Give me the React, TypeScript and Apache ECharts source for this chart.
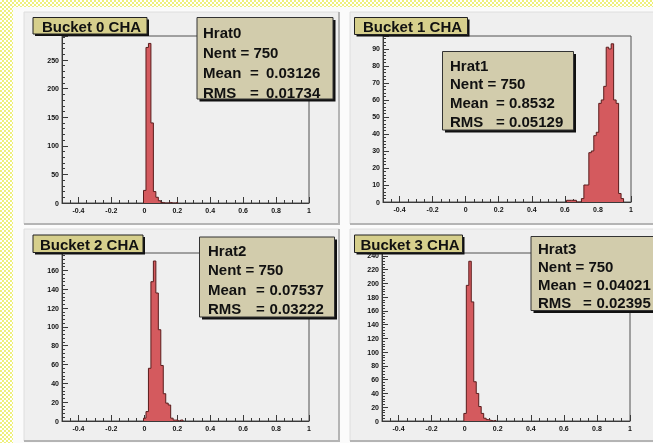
import React, { useEffect, useRef } from "react";
import * as echarts from "echarts";

// Histogram binning: 100 bins from -0.5 to 1.0
const BIN_WIDTH = 0.015;
const X_MIN = -0.5;
const X_MAX = 1.0;

const X_LABEL_TICKS = [-0.4, -0.2, 0, 0.2, 0.4, 0.6, 0.8, 1];
const X_MINOR_TICKS = [
  -0.5, -0.45, -0.4, -0.35, -0.3, -0.25, -0.2, -0.15, -0.1, -0.05, 0, 0.05, 0.1, 0.15, 0.2, 0.25,
  0.3, 0.35, 0.4, 0.45, 0.5, 0.55, 0.6, 0.65, 0.7, 0.75, 0.8, 0.85, 0.9, 0.95, 1,
];

const titles = ["Bucket 0 CHA", "Bucket 1 CHA", "Bucket 2 CHA", "Bucket 3 CHA"];
const histNames = ["Hrat0", "Hrat1", "Hrat2", "Hrat3"];
const entries = [750, 750, 750, 750];
const means = ["0.03126", "0.8532", "0.07537", "0.04021"];
const rmsValues = ["0.01734", "0.05129", "0.03222", "0.02395"];

// Counts per bin, starting at the given lower bin edge
const hrat0FirstEdge = -0.005;
const hrat0Counts = [22, 272, 279, 140, 20, 10, 4, 1, 0, 0, 1, 0, 0, 1];
const hrat1FirstEdge = 0.61;
const hrat1Counts = [1, 1, 1, 1, 0, 0, 2, 10, 10, 29, 30, 39, 41, 58, 60, 68, 91, 90, 93, 60, 58, 5, 2];
const hrat2FirstEdge = -0.005;
const hrat2Counts = [3, 10, 56, 148, 170, 136, 97, 59, 29, 19, 17, 3, 1, 1, 0, 1];
const hrat3FirstEdge = -0.005;
const hrat3Counts = [11, 197, 232, 173, 57, 40, 21, 11, 4, 2, 1, 0, 1];

const yMaxima = [292, 97.6, 178.5, 244];
const yIntervals = [50, 10, 20, 20];

const FONT = '"Liberation Sans", Arial, Helvetica, sans-serif';

// layout of the four pads
const pads = [
  { x: 24, y: 12, w: 315, h: 212 },
  { x: 350, y: 12, w: 310, h: 212 },
  { x: 24, y: 229, w: 315, h: 212 },
  { x: 350, y: 229, w: 310, h: 212 },
];
const frames = [
  { left: 62, top: 36, width: 247, height: 167 },
  { left: 383, top: 36, width: 248, height: 166 },
  { left: 62, top: 253, width: 247, height: 168 },
  { left: 382, top: 253, width: 248, height: 168 },
];
const titleBoxes = [
  { x: 33, y: 17.5, w: 114, h: 16.5 },
  { x: 354.5, y: 17.5, w: 113, h: 17 },
  { x: 33, y: 235, w: 110, h: 17.5 },
  { x: 354.5, y: 235, w: 108, h: 17.5 },
];
// box geometry plus text anchors: label x, first line y, line step, "=" x, value x
const statBoxes = [
  { x: 197, y: 17.5, w: 136, h: 81.5, tx: 203, ty: 32, dy: 20, eqX: 250, valX: 266 },
  { x: 442.5, y: 51.5, w: 131, h: 78.5, tx: 450, ty: 65, dy: 18.8, eqX: 496, valX: 509 },
  { x: 199.5, y: 237, w: 135, h: 80, tx: 208, ty: 250, dy: 19.5, eqX: 256, valX: 269.5 },
  { x: 531, y: 236.5, w: 135, h: 74, tx: 538, ty: 248.5, dy: 18, eqX: 583, valX: 596.5 },
];

function outline(firstEdge: number, counts: number[]) {
  const pts: number[][] = [[firstEdge, 0]];
  counts.forEach((c, i) => pts.push([+(firstEdge + i * BIN_WIDTH).toFixed(4), c]));
  pts.push([+(firstEdge + counts.length * BIN_WIDTH).toFixed(4), 0]);
  return pts;
}

const histograms = [
  outline(hrat0FirstEdge, hrat0Counts),
  outline(hrat1FirstEdge, hrat1Counts),
  outline(hrat2FirstEdge, hrat2Counts),
  outline(hrat3FirstEdge, hrat3Counts),
];

function text(str: string, x: number, y: number, align = "left") {
  return {
    type: "text",
    z: 102,
    style: {
      text: str,
      x,
      y,
      textAlign: align,
      textVerticalAlign: "middle",
      font: `bold 15px ${FONT}`,
      fill: "#111",
    },
  };
}

function buildOption() {
  const grid: any[] = [];
  const xAxis: any[] = [];
  const yAxis: any[] = [];
  const series: any[] = [];
  const graphic: any[] = [];
  const axisColor = "#3a3a3a";
  const labelStyle = { fontSize: 7, fontWeight: "bold", color: "#111", fontFamily: FONT };

  graphic.push({
    type: "rect",
    z: -30,
    shape: { x: 13, y: 7, width: 660, height: 450 },
    style: { fill: "#fbfbfb" },
  });

  for (let i = 0; i < 4; i++) {
    const f = frames[i];
    grid.push({
      left: f.left,
      top: f.top,
      width: f.width,
      height: f.height,
      show: true,
      backgroundColor: "transparent",
      borderColor: "#505050",
      borderWidth: 1,
    });
    xAxis.push({
      type: "value",
      gridIndex: i,
      position: "bottom",
      min: X_MIN,
      max: X_MAX,
      axisLine: { show: true, onZero: false, lineStyle: { color: axisColor, width: 1 } },
      axisTick: {
        show: true,
        inside: true,
        length: 6,
        customValues: X_LABEL_TICKS,
        lineStyle: { color: axisColor },
      },
      axisLabel: { ...labelStyle, margin: 4, customValues: X_LABEL_TICKS },
      splitLine: { show: false },
    });
    xAxis.push({
      type: "value",
      gridIndex: i,
      position: "bottom",
      min: X_MIN,
      max: X_MAX,
      axisLine: { show: false, onZero: false },
      axisTick: {
        show: true,
        inside: true,
        length: 3,
        customValues: X_MINOR_TICKS,
        lineStyle: { color: axisColor },
      },
      axisLabel: { show: false },
      splitLine: { show: false },
    });
    yAxis.push({
      type: "value",
      gridIndex: i,
      position: "left",
      min: 0,
      max: yMaxima[i],
      interval: yIntervals[i],
      axisLine: { show: true, onZero: false, lineStyle: { color: axisColor, width: 1 } },
      axisTick: { show: true, inside: true, length: 6, lineStyle: { color: axisColor } },
      minorTick: { show: true, splitNumber: 5, length: 3, lineStyle: { color: axisColor } },
      axisLabel: { ...labelStyle, margin: 3, showMaxLabel: false },
      splitLine: { show: false },
      minorSplitLine: { show: false },
    });
    series.push({
      type: "line",
      xAxisIndex: i * 2,
      yAxisIndex: i,
      step: "end",
      symbol: "none",
      data: histograms[i],
      lineStyle: { color: "#5a1c1c", width: 1 },
      areaStyle: { color: "#d45a5e", opacity: 1 },
      z: 3,
    });

    // pad background with bevel edges
    const p = pads[i];
    graphic.push({
      type: "rect",
      z: -20,
      shape: { x: p.x, y: p.y, width: p.w, height: p.h },
      style: { fill: "#efefef", stroke: "#dedede", lineWidth: 1 },
    });
    graphic.push({
      type: "polyline",
      z: -19,
      shape: { points: [[p.x, p.y + p.h], [p.x + p.w, p.y + p.h], [p.x + p.w, p.y]] },
      style: { stroke: "#b4b4b4", lineWidth: 2, fill: null },
    });

    // title box
    const t = titleBoxes[i];
    graphic.push({
      type: "rect",
      z: 100,
      shape: { x: t.x + 2, y: t.y + 2, width: t.w, height: t.h },
      style: { fill: "#111" },
    });
    graphic.push({
      type: "rect",
      z: 101,
      shape: { x: t.x, y: t.y, width: t.w, height: t.h },
      style: { fill: "#d6cf8c", stroke: "#222", lineWidth: 1 },
    });
    graphic.push(text(titles[i], t.x + t.w / 2 + 1.5, t.y + t.h / 2 + 0.5, "center"));

    // statistics box
    const s = statBoxes[i];
    graphic.push({
      type: "rect",
      z: 100,
      shape: { x: s.x + 2.5, y: s.y + 2.5, width: s.w, height: s.h },
      style: { fill: "#111" },
    });
    graphic.push({
      type: "rect",
      z: 101,
      shape: { x: s.x, y: s.y, width: s.w, height: s.h },
      style: { fill: "#d2ccac", stroke: "#333", lineWidth: 1 },
    });
    graphic.push(text(histNames[i], s.tx, s.ty));
    graphic.push(text(`Nent = ${entries[i]}`, s.tx, s.ty + s.dy));
    graphic.push(text("Mean", s.tx, s.ty + 2 * s.dy));
    graphic.push(text("=", s.eqX, s.ty + 2 * s.dy));
    graphic.push(text(means[i], s.valX, s.ty + 2 * s.dy));
    graphic.push(text("RMS", s.tx, s.ty + 3 * s.dy));
    graphic.push(text("=", s.eqX, s.ty + 3 * s.dy));
    graphic.push(text(rmsValues[i], s.valX, s.ty + 3 * s.dy));
  }

  return { animation: false, grid, xAxis, yAxis, series, graphic };
}

export default function App() {
  const ref = useRef<HTMLDivElement>(null);
  useEffect(() => {
    if (!ref.current) return;
    const chart = echarts.init(ref.current, null, { renderer: "svg" });
    chart.setOption(buildOption() as any);
    return () => chart.dispose();
  }, []);
  return (
    <div
      style={{
        position: "fixed",
        left: 0,
        top: 0,
        width: 653,
        height: 443,
        overflow: "hidden",
        background:
          "repeating-conic-gradient(#eef07c 0% 25%, #ffffff 0% 50%) 0 0 / 4px 4px",
      }}
    >
      <div ref={ref} style={{ width: 653, height: 443 }} />
    </div>
  );
}
